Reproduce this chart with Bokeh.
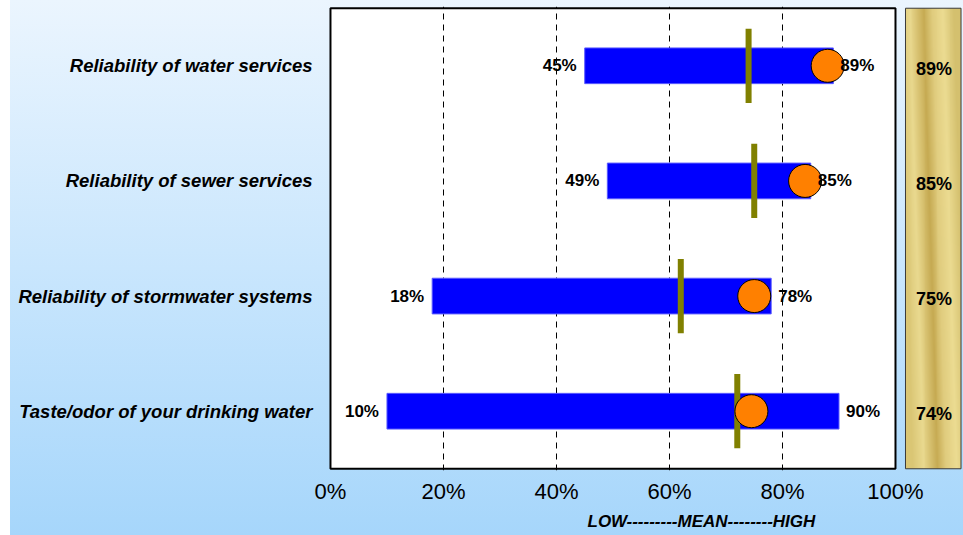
import numpy as np
from bokeh.plotting import figure
from bokeh.models import Range1d, FixedTicker, PrintfTickFormatter, Title
from bokeh.embed import file_html
from bokeh.resources import INLINE
from bokeh.core.properties import value

# ---- data ----
categories = [
    "Reliability of water services",
    "Reliability of sewer services",
    "Reliability of stormwater systems",
    "Taste/odor of your drinking water",
]
low = [45, 49, 18, 10]
high = [89, 85, 78, 90]
mean = [74, 75, 62, 72]
score = [88, 84, 75, 74.5]
panel_values = [89, 85, 75, 74]
x_ticks = [0, 20, 40, 60, 80, 100]
grid_ticks = [20, 40, 60, 80]
axis_title = "LOW---------MEAN--------HIGH"

FONT = "Liberation Sans"
n = len(categories)
ypos = [n - i - 0.5 for i in range(n)]

p = figure(width=963, height=535, output_backend="svg", toolbar_location=None,
           x_range=Range1d(-0.35, 111.86), y_range=Range1d(-0.015, n + 0.015),
           min_border_left=328, min_border_right=1, min_border_top=6,
           min_border_bottom=65)
p.background_fill_alpha = 0
p.border_fill_alpha = 0
p.outline_line_color = None
p.styles = {"background": "linear-gradient(90deg, #ffffff 0px, #ffffff 10px, rgba(255,255,255,0) 10px), "
                          "linear-gradient(180deg, #ebf5fe 0%, #c9e6fd 50%, #a6d6fb 100%)"}

# white plot area
wr = p.quad(left=[0], right=[100], bottom=[0], top=[n], fill_color="white",
            line_color="black", line_width=2)
wr.level = "image"

# gold panel texture
gx = np.linspace(0, 1, 60)
stops = [0, 0.2, 0.45, 0.6, 0.8, 1.0]
cr = [218, 234, 198, 224, 236, 212]
cg = [198, 218, 170, 204, 220, 192]
cb = [116, 144, 82, 126, 146, 110]
img = np.zeros((460, 60), dtype=np.uint32)
view = img.view(dtype=np.uint8).reshape((460, 60, 4))
for j in range(460):
    sh = (j / 460.0) * 0.25
    xx = np.clip(gx + sh - 0.12, 0, 1)
    view[j, :, 0] = np.interp(xx, stops, cr).astype(np.uint8)
    view[j, :, 1] = np.interp(xx, stops, cg).astype(np.uint8)
    view[j, :, 2] = np.interp(xx, stops, cb).astype(np.uint8)
    view[j, :, 3] = 255
gr = p.image_rgba(image=[img], x=101.77, y=0, dw=111.6 - 101.77, dh=n)
gr.level = "image"
p.quad(left=[101.77], right=[111.6], bottom=[0], top=[n], fill_color=None,
       line_color="#3a3a3a", line_width=1)

# grid
p.xgrid.ticker = FixedTicker(ticks=grid_ticks)
p.xgrid.grid_line_color = "black"
p.xgrid.grid_line_dash = "6 5"
p.xgrid.grid_line_width = 1
p.ygrid.visible = False

# bars
p.hbar(y=ypos, left=low, right=high, height=0.31, fill_color="#0000FF",
       line_color="#5a5aff", line_width=1)
# mean markers
p.rect(x=mean, y=ypos, width=6, width_units="screen", height=0.645,
       fill_color="#808000", line_color=None)
# score circles
p.scatter(x=score, y=ypos, size=33, fill_color="#FF8000", line_color="black",
          line_width=1)

# labels
p.text(x=low, y=ypos, text=[f"{v}%" for v in low], x_offset=-8,
       text_align="right", text_baseline="middle", text_font=value(FONT),
       text_font_style="bold", text_font_size="17px", text_color="black")
p.text(x=high, y=ypos, text=[f"{v}%" for v in high], x_offset=7,
       text_align="left", text_baseline="middle", text_font=value(FONT),
       text_font_style="bold", text_font_size="17px", text_color="black")
p.text(x=[106.8] * n, y=ypos, text=[f"{v}%" for v in panel_values], y_offset=3,
       text_align="center", text_baseline="middle", text_font=value(FONT),
       text_font_style="bold", text_font_size="18px", text_color="black")

# y axis
p.yaxis.ticker = FixedTicker(ticks=ypos)
p.yaxis.major_label_overrides = {y: c for y, c in zip(ypos, categories)}
p.yaxis.axis_line_color = None
p.yaxis.major_tick_line_color = None
p.yaxis.minor_tick_line_color = None
p.yaxis.major_label_standoff = 10
p.yaxis.major_label_text_font = FONT
p.yaxis.major_label_text_font_style = "bold italic"
p.yaxis.major_label_text_font_size = "18.5px"
p.yaxis.major_label_text_color = "black"

# x axis
p.xaxis.ticker = FixedTicker(ticks=x_ticks)
p.xaxis.formatter = PrintfTickFormatter(format="%d%%")
p.xaxis.axis_line_color = None
p.xaxis.major_tick_line_color = None
p.xaxis.minor_tick_line_color = None
p.xaxis.major_label_standoff = 2
p.xaxis.major_label_text_font = FONT
p.xaxis.major_label_text_font_size = "22px"
p.xaxis.major_label_text_color = "black"

# axis title below the scale
p.add_layout(Title(text=axis_title, align="left", offset=259, standoff=7,
                   text_font=FONT, text_font_style="bold italic",
                   text_font_size="17px", text_color="black"), "below")

open("out.html", "w").write(file_html(p, INLINE))
